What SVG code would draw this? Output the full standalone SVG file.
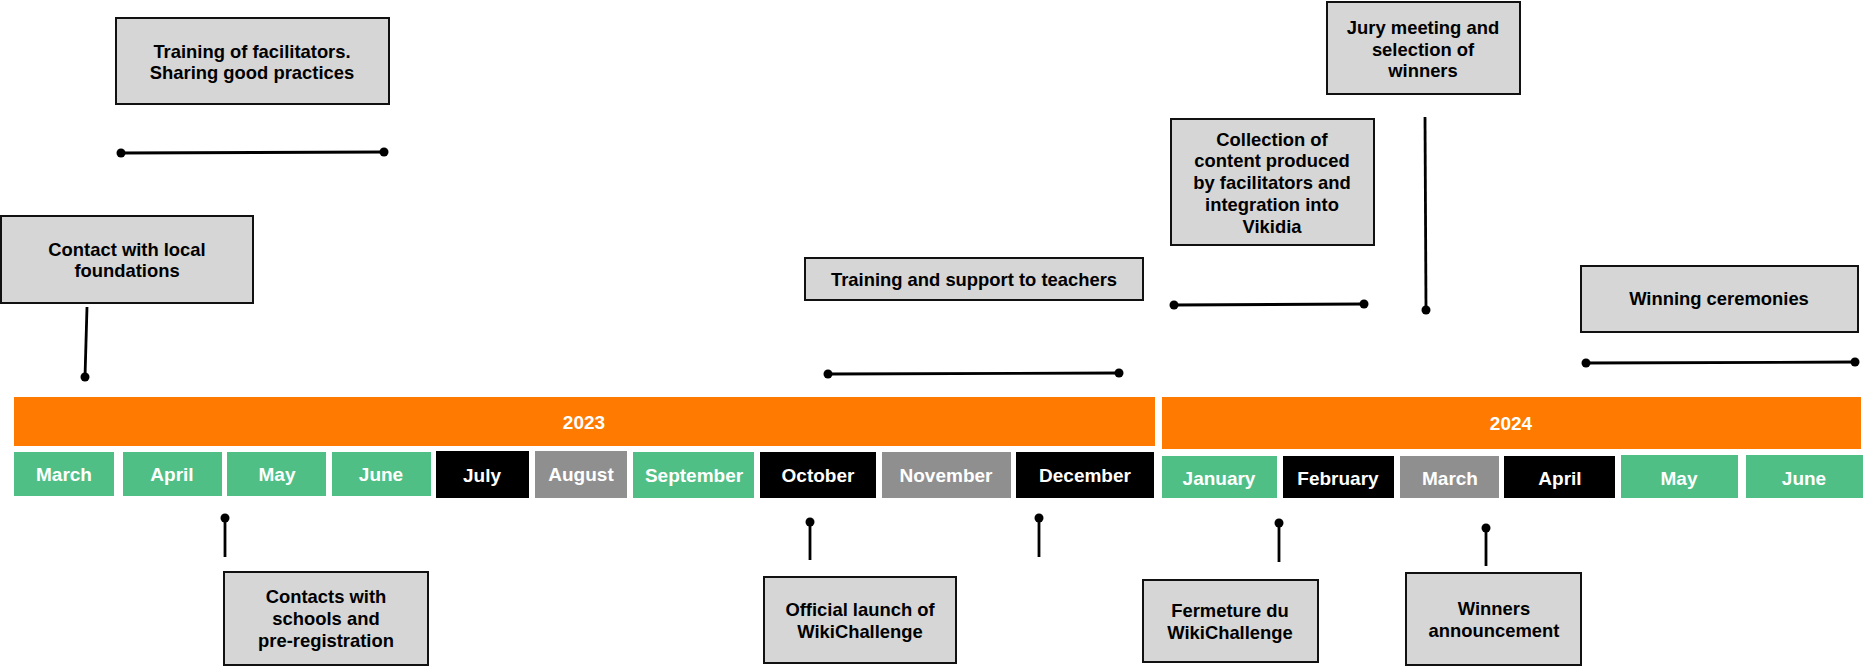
<svg xmlns="http://www.w3.org/2000/svg" width="1864" height="667" viewBox="0 0 1864 667">
<style>
.box{fill:#d6d6d6;stroke:#111;stroke-width:2}
.lbl{font-family:"Liberation Sans",Arial,sans-serif;font-weight:bold;font-size:18.4px;fill:#000;text-anchor:middle}
.mt{font-family:"Liberation Sans",Arial,sans-serif;font-weight:bold;font-size:19px;fill:#fff;text-anchor:middle}
.yr{fill:#ff7a00}
.g{fill:#50bf86}
.k{fill:#000}
.gr{fill:#8f8f8f}
.ln{stroke:#000;stroke-width:2.8;fill:none}
.dot{fill:#000}
</style>
<rect width="1864" height="667" fill="#fff"/>

<g id="year-2023">
<rect class="yr" x="14" y="397" width="1141" height="49"/>
<text class="mt" x="584" y="429">2023</text>
</g>
<g id="year-2024">
<rect class="yr" x="1162" y="397" width="699" height="52"/>
<text class="mt" x="1511" y="430">2024</text>
</g>

<g id="m-2023-mar"><rect class="g" x="14" y="452" width="100" height="44"/><text class="mt" x="64" y="481">March</text></g>
<g id="m-2023-apr"><rect class="g" x="123" y="452" width="99" height="44"/><text class="mt" x="172" y="481">April</text></g>
<g id="m-2023-may"><rect class="g" x="227" y="452" width="99" height="44"/><text class="mt" x="277" y="481">May</text></g>
<g id="m-2023-jun"><rect class="g" x="332" y="452" width="99" height="44"/><text class="mt" x="381" y="481">June</text></g>
<g id="m-2023-jul"><rect class="k" x="436" y="451" width="93" height="47"/><text class="mt" x="482" y="482">July</text></g>
<g id="m-2023-aug"><rect class="gr" x="535" y="451" width="92" height="47"/><text class="mt" x="581" y="481">August</text></g>
<g id="m-2023-sep"><rect class="g" x="633" y="452" width="121" height="46"/><text class="mt" x="694" y="482">September</text></g>
<g id="m-2023-oct"><rect class="k" x="760" y="452" width="116" height="46"/><text class="mt" x="818" y="482">October</text></g>
<g id="m-2023-nov"><rect class="gr" x="882" y="452" width="129" height="46"/><text class="mt" x="946" y="482">November</text></g>
<g id="m-2023-dec"><rect class="k" x="1016" y="452" width="138" height="46"/><text class="mt" x="1085" y="482">December</text></g>

<g id="m-2024-jan"><rect class="g" x="1162" y="456" width="115" height="42"/><text class="mt" x="1219" y="485">January</text></g>
<g id="m-2024-feb"><rect class="k" x="1283" y="456" width="111" height="42"/><text class="mt" x="1338" y="485">February</text></g>
<g id="m-2024-mar"><rect class="gr" x="1400" y="456" width="99" height="42"/><text class="mt" x="1450" y="485">March</text></g>
<g id="m-2024-apr"><rect class="k" x="1504" y="456" width="111" height="42"/><text class="mt" x="1560" y="485">April</text></g>
<g id="m-2024-may"><rect class="g" x="1621" y="455" width="117" height="43"/><text class="mt" x="1679" y="485">May</text></g>
<g id="m-2024-jun"><rect class="g" x="1746" y="455" width="117" height="43"/><text class="mt" x="1804" y="485">June</text></g>

<g id="n-training-facilitators">
<rect class="box" x="116" y="18" width="273" height="86"/>
<text class="lbl" x="252" y="58">Training of facilitators.</text>
<text class="lbl" x="252" y="79">Sharing good practices</text>
</g>
<g id="n-contact-foundations">
<rect class="box" x="1" y="216" width="252" height="87"/>
<text class="lbl" x="127" y="256">Contact with local</text>
<text class="lbl" x="127" y="277">foundations</text>
</g>
<g id="n-contacts-schools">
<rect class="box" x="224" y="572" width="204" height="93"/>
<text class="lbl" x="326" y="603">Contacts with</text>
<text class="lbl" x="326" y="625">schools and</text>
<text class="lbl" x="326" y="647">pre-registration</text>
</g>
<g id="n-training-teachers">
<rect class="box" x="805" y="258" width="338" height="42"/>
<text class="lbl" x="974" y="286">Training and support to teachers</text>
</g>
<g id="n-official-launch">
<rect class="box" x="764" y="577" width="192" height="86"/>
<text class="lbl" x="860" y="616">Official launch of</text>
<text class="lbl" x="860" y="638">WikiChallenge</text>
</g>
<g id="n-fermeture">
<rect class="box" x="1143" y="580" width="175" height="82"/>
<text class="lbl" x="1230" y="617">Fermeture du</text>
<text class="lbl" x="1230" y="639">WikiChallenge</text>
</g>
<g id="n-collection">
<rect class="box" x="1171" y="119" width="203" height="126"/>
<text class="lbl" x="1272" y="146">Collection of</text>
<text class="lbl" x="1272" y="167">content produced</text>
<text class="lbl" x="1272" y="189">by facilitators and</text>
<text class="lbl" x="1272" y="211">integration into</text>
<text class="lbl" x="1272" y="233">Vikidia</text>
</g>
<g id="n-jury">
<rect class="box" x="1327" y="2" width="193" height="92"/>
<text class="lbl" x="1423" y="34">Jury meeting and</text>
<text class="lbl" x="1423" y="56">selection of</text>
<text class="lbl" x="1423" y="77">winners</text>
</g>
<g id="n-winners-announcement">
<rect class="box" x="1406" y="573" width="175" height="92"/>
<text class="lbl" x="1494" y="615">Winners</text>
<text class="lbl" x="1494" y="637">announcement</text>
</g>
<g id="n-winning-ceremonies">
<rect class="box" x="1581" y="266" width="277" height="66"/>
<text class="lbl" x="1719" y="305">Winning ceremonies</text>
</g>

<g id="connectors">
<line class="ln" x1="121" y1="153" x2="384" y2="152"/>
<circle class="dot" cx="121" cy="153" r="4.5"/><circle class="dot" cx="384" cy="152" r="4.5"/>

<line class="ln" x1="87" y1="307" x2="85" y2="377"/>
<circle class="dot" cx="85" cy="377" r="4.5"/>

<line class="ln" x1="225" y1="518" x2="225" y2="557"/>
<circle class="dot" cx="225" cy="518" r="4.5"/>

<line class="ln" x1="828" y1="374" x2="1119" y2="373"/>
<circle class="dot" cx="828" cy="374" r="4.5"/><circle class="dot" cx="1119" cy="373" r="4.5"/>

<line class="ln" x1="810" y1="522" x2="810" y2="560"/>
<circle class="dot" cx="810" cy="522" r="4.5"/>

<line class="ln" x1="1039" y1="518" x2="1039" y2="557"/>
<circle class="dot" cx="1039" cy="518" r="4.5"/>

<line class="ln" x1="1174" y1="305" x2="1364" y2="304"/>
<circle class="dot" cx="1174" cy="305" r="4.5"/><circle class="dot" cx="1364" cy="304" r="4.5"/>

<line class="ln" x1="1425" y1="117" x2="1426" y2="310"/>
<circle class="dot" cx="1426" cy="310" r="4.5"/>

<line class="ln" x1="1279" y1="523" x2="1279" y2="562"/>
<circle class="dot" cx="1279" cy="523" r="4.5"/>

<line class="ln" x1="1486" y1="528" x2="1486" y2="566"/>
<circle class="dot" cx="1486" cy="528" r="4.5"/>

<line class="ln" x1="1586" y1="363" x2="1855" y2="362"/>
<circle class="dot" cx="1586" cy="363" r="4.5"/><circle class="dot" cx="1855" cy="362" r="4.5"/>
</g>
</svg>
